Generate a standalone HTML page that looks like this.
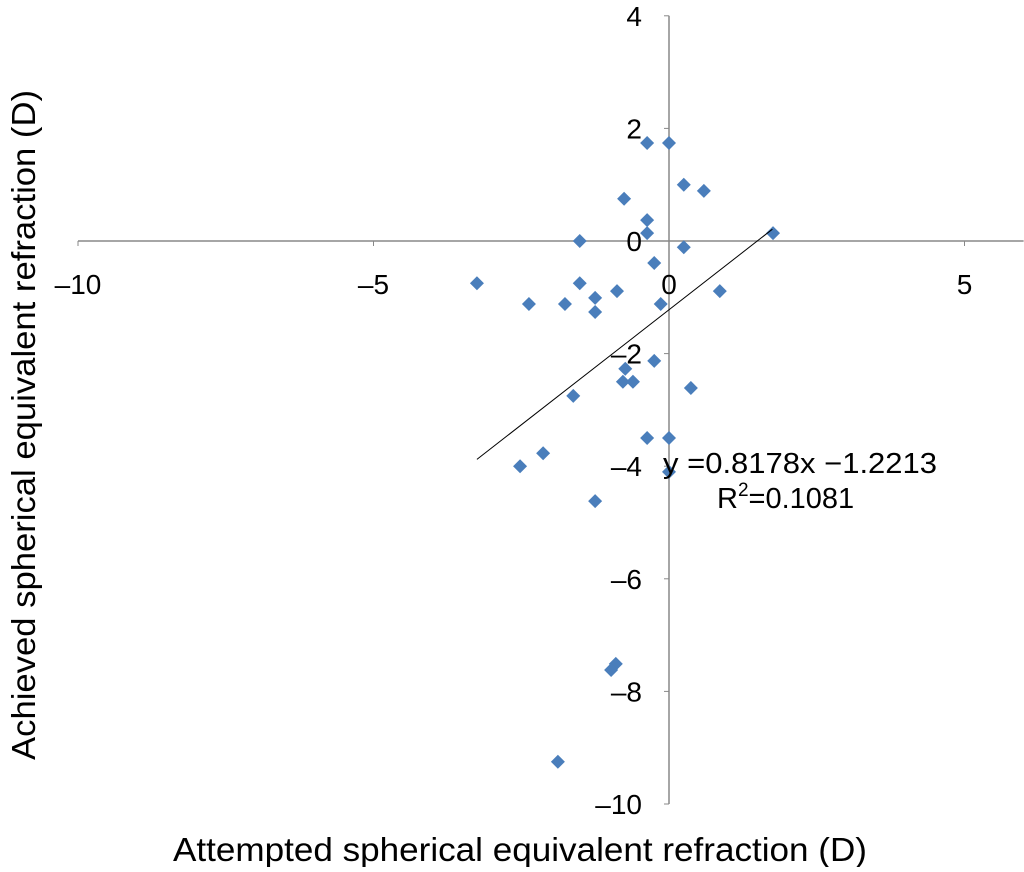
<!DOCTYPE html>
<html><head><meta charset="utf-8"><style>
body{margin:0;background:#fff}
svg text{font-family:"Liberation Sans",sans-serif;fill:#000}
</style></head><body>
<svg width="1024" height="867" xmlns="http://www.w3.org/2000/svg" id="chart">
<g id="axes"></g><g id="marks"></g>
<text x="663" y="473" font-size="29" textLength="274" lengthAdjust="spacingAndGlyphs">y =0.8178x −1.2213</text>
<text x="717" y="508" font-size="29">R<tspan dy="-12" font-size="19">2</tspan><tspan dy="12">=0.1081</tspan></text>
<text x="520" y="861" font-size="33" text-anchor="middle" textLength="694" lengthAdjust="spacingAndGlyphs">Attempted spherical equivalent refraction (D)</text>
<text transform="translate(35,425) rotate(-90)" font-size="33" text-anchor="middle" textLength="670" lengthAdjust="spacingAndGlyphs">Achieved spherical equivalent refraction (D)</text>
</svg>
<script>
const xTicks=[-10,-5,0,5];
const yTicks=[4,2,0,-2,-4,-6,-8,-10];
const xs=[-0.37,0,0.25,0.59,-0.76,-0.37,-0.37,-1.51,0.25,1.76,-0.25,-3.25,-1.51,-0.88,0.86,-2.37,-1.76,-1.25,-1.25,-0.14,-0.74,-0.25,-0.78,-0.61,0.37,-1.62,-0.37,0,-2.13,-2.52,0,-1.25,-0.9,-0.98,-1.88];
const ys=[1.74,1.74,1.0,0.89,0.75,0.37,0.14,0,-0.11,0.14,-0.39,-0.75,-0.75,-0.89,-0.89,-1.12,-1.12,-1.01,-1.26,-1.12,-2.27,-2.13,-2.5,-2.5,-2.61,-2.75,-3.5,-3.5,-3.77,-4.0,-4.1,-4.62,-7.51,-7.62,-9.25];
const slope=0.8178, intercept=-1.2213, trendX=[-3.25,1.75];
const X=v=>669+v*59.1, Y=v=>241-v*56.3;
const NS="http://www.w3.org/2000/svg";
const ax=document.getElementById('axes'), mk=document.getElementById('marks');
function el(t,a,p){const e=document.createElementNS(NS,t);for(const k in a)e.setAttribute(k,a[k]);p.appendChild(e);return e;}
let l=el('line',{x1:X(-10),x2:X(6),y1:Y(0),y2:Y(0),stroke:'#888','stroke-width':1.5},ax);


l=el('line',{x1:X(0),x2:X(0),y1:Y(4),y2:Y(-10),stroke:'#888','stroke-width':1.5},ax);


xTicks.forEach(v=>{const t=el('text',{x:X(v),y:294,'font-size':28,'text-anchor':'middle'},ax);t.textContent=v<0?'–'+(-v):v;


el('line',{x1:X(v),x2:X(v),y1:Y(0),y2:Y(0)+5,stroke:'#888'},ax);});
yTicks.forEach(v=>{const t=el('text',{x:642,y:Y(v)+10,'font-size':28,'text-anchor':'end'},ax);t.textContent=v<0?'–'+(-v):v;


el('line',{x1:X(0)-5,x2:X(0),y1:Y(v),y2:Y(v),stroke:'#888'},ax);});
xs.forEach((v,i)=>{const cx=X(v),cy=Y(ys[i]);const p=el('polygon',{points:`${cx},${cy-7} ${cx+7},${cy} ${cx},${cy+7} ${cx-7},${cy}`,fill:'#4a7ebb'},mk);

});
const tl=el('line',{x1:X(trendX[0]),y1:Y(slope*trendX[0]+intercept),x2:X(trendX[1]),y2:Y(slope*trendX[1]+intercept),stroke:'#000','stroke-width':1},mk);


</script>
</body></html>
